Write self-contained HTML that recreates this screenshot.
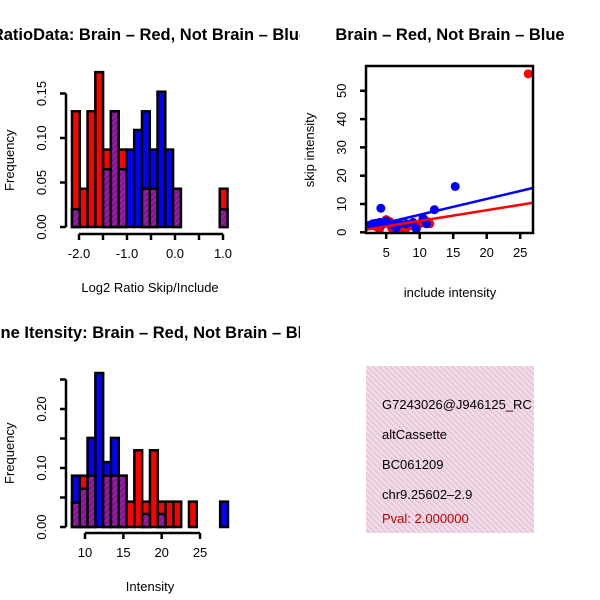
<!DOCTYPE html>
<html><head><meta charset="utf-8"><style>
body{margin:0;background:#fff}
svg{display:block;font-family:"Liberation Sans",sans-serif}
</style></head><body>
<svg id="c" width="600" height="600" viewBox="0 0 600 600">
<defs>
<pattern id="purp" width="4" height="4" patternUnits="userSpaceOnUse" patternTransform="rotate(45)">
<rect width="4" height="4" fill="#9b1ea8"/><rect width="2" height="4" fill="#7f1590"/></pattern>
<pattern id="pink" width="4" height="4" patternUnits="userSpaceOnUse" patternTransform="rotate(-45)">
<rect width="4" height="4" fill="#f6d8ef"/><rect width="1.3" height="4" fill="#dcc7c8"/></pattern>
<clipPath id="clipsc"><rect x="366" y="66" width="167" height="167"/></clipPath>
<clipPath id="cliptl"><rect x="0" y="0" width="300" height="600"/></clipPath>
</defs>
<g id="h1" clip-path="url(#cliptl)"></g>
<g id="sc"></g>
<g id="h2" clip-path="url(#cliptl)"></g>
<g>
<rect x="366" y="366" width="168" height="167" fill="url(#pink)"/>
<svg x="366" y="366" width="168" height="167">
<text x="16" y="43" font-size="13">G7243026@J946125_RC</text>
<text x="16" y="73" font-size="13">altCassette</text>
<text x="16" y="103" font-size="13">BC061209</text>
<text x="16" y="133" font-size="13">chr9.25602–2.9</text>
<text x="16" y="157" font-size="13" fill="#c00000">Pval: 2.000000</text>
</svg>
</g>
</svg>
<script>
// Histogram 1: log2 ratio
const h1Red  = [0.13,0.043,0.13,0.174,0.087,0.13,0.087,0,0,0.043,0.043,0,0,0.043,0,0,0,0,0,0.043];
const h1Blue = [0.02,0,0,0,0.065,0.13,0.065,0.087,0.109,0.13,0.087,0.152,0.087,0.043,0,0,0,0,0,0.02];
const h1Ticks = [-2.0,-1.5,-1.0,-0.5,0.0,0.5,1.0];
const h1TickLabels = ["-2.0","","-1.0","","0.0","","1.0"];
const h1YTicks = [0,0.05,0.10,0.15];
const h1YLabels = ["0.00","0.05","0.10","0.15"];
// Histogram 2: intensity
const h2Red  = [0.041,0.087,0.087,0,0.087,0.087,0.087,0.043,0.13,0.043,0.13,0.043,0.043,0.043,0,0.043,0,0,0,0];
const h2Blue = [0.087,0.065,0.151,0.261,0.11,0.151,0.087,0,0,0.022,0,0.022,0,0,0,0,0,0,0,0.043];
const h2Ticks = [10,15,20,25];
const h2TickLabels = ["10","15","20","25"];
const h2YTicks = [0,0.05,0.10,0.15,0.20,0.25];
const h2YLabels = ["0.00","","0.10","","0.20",""];
// Scatter
const redX = [26.2,3.5,4.5,5.0,5.5,6.0,6.5,7.2,8.0,9.0,10.0,11.0,11.5,4.0,5.8,7.5];
const redY = [56,2.0,3.5,4.5,3.8,3.0,2.5,2.0,1.5,2.2,3.0,4.0,3.0,1.0,1.5,1.0];
const blueX = [15.3,4.2,12.2,2.5,3.0,3.5,4.0,4.5,5.0,5.5,6.0,6.5,7.0,8.0,9.0,9.5,10.5,11.0];
const blueY = [16.2,8.5,8.0,2.5,3.0,3.2,3.5,2.8,4.0,3.2,2.5,1.5,3.0,3.0,3.5,1.2,5.0,3.0];
const fitBlue = [0.6,0.56]; // intercept, slope
const fitRed = [0.2,0.38];
const scXTicks = [5,10,15,20,25];
const scYTicks = [0,10,20,30,40,50];

const NS="http://www.w3.org/2000/svg";
function mk(p,tag,a,txt){const e=document.createElementNS(NS,tag);for(const k in a)e.setAttribute(k,a[k]);if(txt!==undefined)e.textContent=txt;p.appendChild(e);return e;}

function hist(g,red,blue,x0,bw,xs,ys,y0,ticks,tl,yt,yl,xlab,title,axisY,titleY){
  mk(g,'text',{x:150,y:titleY,'font-size':16.5,'font-weight':'bold','text-anchor':'middle'},title);
  for(let i=0;i<red.length;i++){
    const l=xs(x0+i*bw), r=xs(x0+(i+1)*bw);
    const mx=Math.max(red[i],blue[i]), mn=Math.min(red[i],blue[i]);
    if(mx>0){
      const b=mk(g,'rect',{x:l,y:ys(mx),width:r-l,height:y0-ys(mx),fill:red[i]>=blue[i]?'#ff0000':'#0000ff',stroke:'#000','stroke-width':2.5});
      
      
    }
    if(mn>0){
      const b=mk(g,'rect',{x:l,y:ys(mn),width:r-l,height:y0-ys(mn),fill:'url(#purp)',stroke:'#000','stroke-width':2.5});
      
      
    }
  }
  const xa=mk(g,'g',{});
  
  
  mk(xa,'line',{x1:xs(ticks[0]),x2:xs(ticks[ticks.length-1]),y1:axisY,y2:axisY,stroke:'#000','stroke-width':2.5});
  ticks.forEach((t,i)=>{mk(xa,'line',{x1:xs(t),x2:xs(t),y1:axisY,y2:axisY+6,stroke:'#000','stroke-width':2.5});
    if(tl[i])mk(xa,'text',{x:xs(t),y:axisY+24,'font-size':13,'text-anchor':'middle'},tl[i]);});
  mk(g,'text',{x:150,y:axisY+58,'font-size':13,'text-anchor':'middle'},xlab);
  const ya=mk(g,'g',{});
  
  
  mk(ya,'line',{x1:66,x2:66,y1:ys(yt[0]),y2:ys(yt[yt.length-1]),stroke:'#000','stroke-width':2.5});
  yt.forEach((t,i)=>{mk(ya,'line',{x1:60,x2:66,y1:ys(t),y2:ys(t),stroke:'#000','stroke-width':2.5});
    if(yl[i])mk(ya,'text',{x:46,y:ys(t),'font-size':13,'text-anchor':'middle',transform:`rotate(-90 46 ${ys(t)})`},yl[i]);});
  const yc=(ys(yt[0])+ys(yt[yt.length-1]))/2;
  mk(g,'text',{x:14,y:yc,'font-size':13,'text-anchor':'middle',transform:`rotate(-90 14 ${yc})`},'Frequency');
}
hist(document.getElementById('h1'),h1Red,h1Blue,-2.146,0.162,v=>79+(v+2)*48,v=>227-v*890,227,
  h1Ticks,h1TickLabels,h1YTicks,h1YLabels,'Log2 Ratio Skip/Include','RatioData: Brain – Red, Not Brain – Blue',234,40);
hist(document.getElementById('h2'),h2Red,h2Blue,8.3,1.017,v=>85+(v-10)*7.67,v=>527-v*590,527,
  h2Ticks,h2TickLabels,h2YTicks,h2YLabels,'Intensity','Gene Itensity: Brain – Red, Not Brain – Blue',533,338);

const g=document.getElementById('sc');
const sx=v=>352.7+v*6.7, sy=v=>232.3-v*2.83;
mk(g,'text',{x:450,y:40,'font-size':16.5,'font-weight':'bold','text-anchor':'middle'},'Brain – Red, Not Brain – Blue');
const pts=mk(g,'g',{'clip-path':'url(#clipsc)'});
redX.forEach((x,i)=>{const c=mk(pts,'circle',{cx:sx(x),cy:sy(redY[i]),r:4.5,fill:'#ff0000'});
  
  });
blueX.forEach((x,i)=>{const c=mk(pts,'circle',{cx:sx(x),cy:sy(blueY[i]),r:4.5,fill:'#0000ff'});
  
  });
[[fitBlue,'#0000ff','fit-line-blue'],[fitRed,'#ff0000','fit-line-red']].forEach(([f,c,n])=>{
  const l=mk(pts,'line',{x1:sx(2),y1:sy(f[0]+f[1]*2),x2:sx(27),y2:sy(f[0]+f[1]*27),stroke:c,'stroke-width':2.5});
  
  });
mk(g,'rect',{x:366,y:66,width:167,height:167,fill:'none',stroke:'#000','stroke-width':2.5});
scXTicks.forEach(t=>{mk(g,'line',{x1:sx(t),x2:sx(t),y1:233,y2:239,stroke:'#000','stroke-width':2.5});
  mk(g,'text',{x:sx(t),y:257,'font-size':13,'text-anchor':'middle'},String(t));});
scYTicks.forEach(t=>{mk(g,'line',{x1:360,x2:366,y1:sy(t),y2:sy(t),stroke:'#000','stroke-width':2.5});
  mk(g,'text',{x:346,y:sy(t),'font-size':13,'text-anchor':'middle',transform:`rotate(-90 346 ${sy(t)})`},String(t));});
mk(g,'text',{x:450,y:297,'font-size':13,'text-anchor':'middle'},'include intensity');
mk(g,'text',{x:314,y:150,'font-size':13,'text-anchor':'middle',transform:'rotate(-90 314 150)'},'skip intensity');
</script>
</body></html>
